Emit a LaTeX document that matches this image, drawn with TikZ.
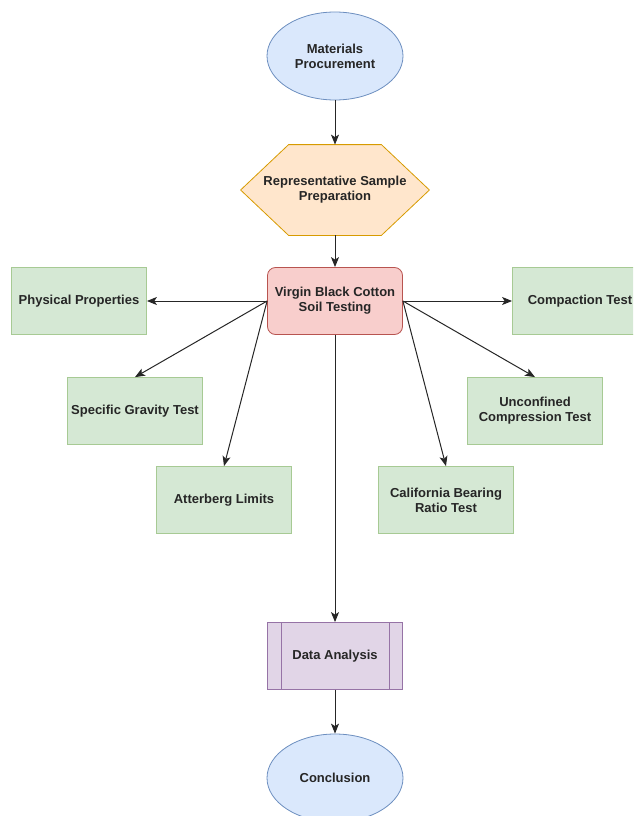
\documentclass[tikz,border=0pt]{standalone}
\usepackage{fontspec}
\setmainfont{Liberation Sans}
\usetikzlibrary{shapes.geometric,arrows.meta,backgrounds}
\definecolor{bluefill}{HTML}{DAE8FC}
\definecolor{blueline}{HTML}{6C8EBF}
\definecolor{orangefill}{HTML}{FFE6CC}
\definecolor{orangeline}{HTML}{D79B00}
\definecolor{redfill}{HTML}{F8CECC}
\definecolor{redline}{HTML}{B85450}
\definecolor{greenfill}{HTML}{D5E8D4}
\definecolor{greenline}{HTML}{82B366}
\definecolor{purplefill}{HTML}{E1D5E7}
\definecolor{purpleline}{HTML}{9673A6}
\tikzset{
  box/.style={font=\fontsize{13}{15}\selectfont\bfseries, text=black!85, align=center, inner sep=0pt, line width=0.8pt},
  oval/.style={box, ellipse, fill=bluefill, draw=blueline, minimum width=136, minimum height=88},
  hexa/.style={box, rectangle, minimum width=188, minimum height=90},
  soil/.style={box, rectangle, rounded corners=8pt, fill=redfill, draw=redline, minimum width=135, minimum height=67},
  test/.style={box, rectangle, fill=greenfill, draw=greenline!70, minimum width=135, minimum height=67},
  proc/.style={box, rectangle, fill=purplefill, draw=purpleline, minimum width=135, minimum height=67},
  arr/.style={line width=1pt, black!85, -{Stealth[length=10pt,width=8pt,inset=2.5pt]}}
}
\begin{document}
\begin{tikzpicture}[x=1pt,y=-1pt]
\useasboundingbox (0,0) rectangle (633,816);
\clip (0,0) rectangle (633,816);

  \node [oval] (mp) at (335,56) {Materials\\Procurement};
  \node [hexa] (rsp) at (335,190) {Representative Sample\\Preparation};
\begin{scope}[on background layer]
\draw [fill=orangefill, draw=orangeline, line width=0.8pt] (rsp.west) to ([xshift=48]rsp.north west) to ([xshift=-48]rsp.north east)
  to (rsp.east) to ([xshift=-48]rsp.south east) to ([xshift=48]rsp.south west) to cycle;
\end{scope}
  \node [soil] (vbc) at (335,301) {Virgin Black Cotton\\Soil Testing};

  \node [test] (pp) at (79,301) {Physical Properties};
  \node [test] (sg) at (135,411) {Specific Gravity Test};
  \node [test] (al) at (224,500) {Atterberg Limits};
  \node [test] (ct) at (580,301) {Compaction Test};
  \node [test] (uc) at (535,411) {Unconfined\\Compression Test};
  \node [test] (cbr) at (446,500) {California Bearing\\Ratio Test};

  \node [proc] (da) at (335,656) {Data Analysis};
  \draw [purpleline, line width=0.8pt] ([xshift=14]da.north west) to ([xshift=14]da.south west);
  \draw [purpleline, line width=0.8pt] ([xshift=-14]da.north east) to ([xshift=-14]da.south east);
  \node [oval] (con) at (335,778) {Conclusion};

\draw [arr] (mp) to (rsp);
\draw [arr] (rsp) to (vbc);
\draw [arr] (vbc.west) to (pp.east);
\draw [arr] (vbc.west) to (sg.north);
\draw [arr] (vbc.west) to (al.north);
\draw [arr] (vbc.east) to (ct.west);
\draw [arr] (vbc.east) to (uc.north);
\draw [arr] (vbc.east) to (cbr.north);
\draw [arr] (vbc) to (da);
\draw [arr] (da) to (con);
\end{tikzpicture}
\end{document}
